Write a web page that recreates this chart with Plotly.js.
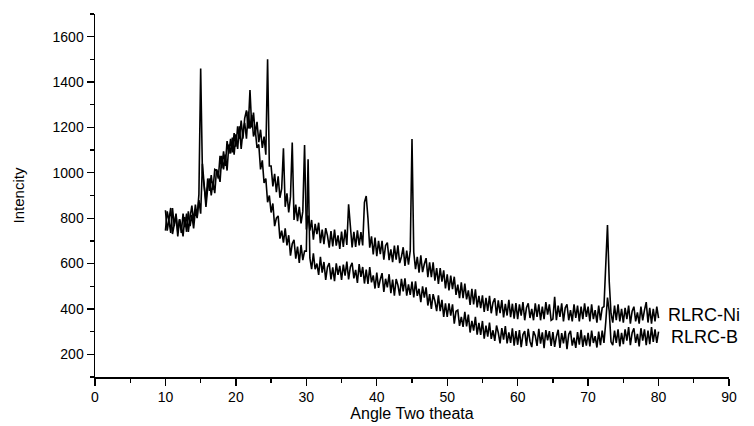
<!DOCTYPE html>
<html>
<head>
<meta charset="utf-8">
<script src="https://cdn.plot.ly/plotly-3.0.1.min.js"></script>
<style>html,body{margin:0;padding:0;background:#fff;}#chart{width:754px;height:426px;}</style>
</head>
<body>
<div id="chart"></div>
<script>
// Scan grid: 2-theta from 10 to 80 deg, step 0.25 deg
const angleStart = 10;
const angleStep = 0.25;

// RLRC-B intensities (lower curve)
const rlrcB = [
835,745,795,845,730,765,815,720,795,765,720,805,740,830,765,815,755,835,800,880,
820,1040,920,850,935,975,900,960,910,1015,995,960,1075,1015,1080,1010,1125,1085,1155,1080,
1170,1105,1205,1105,1185,1220,1150,1270,1195,1255,1160,1190,1110,1125,1015,1055,955,975,870,900,
825,865,765,800,810,710,745,692,755,680,725,635,687,705,622,675,603,682,615,655,
655,1060,625,575,645,575,600,550,630,560,607,528,585,602,530,583,522,601,550,590,
528,595,547,609,530,585,603,535,572,515,598,541,585,512,573,510,585,517,548,490,
560,493,530,558,475,533,495,553,470,529,458,532,505,459,533,477,535,459,508,462,
520,451,522,458,489,430,500,450,495,415,465,400,465,435,390,460,390,440,365,425,
365,425,370,420,335,390,395,325,365,321,387,323,375,296,347,304,365,287,339,286,
347,269,326,278,340,268,306,259,327,295,248,316,265,324,248,297,250,314,238,302,
242,307,232,287,302,237,312,257,232,302,282,237,312,247,297,227,307,262,302,237,
298,233,278,308,228,293,248,303,223,288,303,238,273,228,298,243,308,233,283,238,
295,235,305,250,280,230,300,240,305,250,340,450,390,255,240,305,250,310,235,295,
245,310,260,320,240,295,315,250,290,235,315,260,310,240,305,245,320,255,310,250,300
];

// RLRC-Ni intensities (upper curve)
const rlrcNi = [
745,830,790,735,845,765,820,740,795,735,820,760,820,740,805,855,785,860,805,905,
1460,1000,940,875,975,920,990,925,1015,1010,975,1075,1020,1095,1030,1140,1085,1150,1090,1175,
1115,1205,1150,1230,1150,1240,1275,1195,1365,1200,1265,1170,1225,1135,1190,1110,1160,1080,1500,1030,
1030,940,995,915,985,890,930,1108,850,910,825,895,1133,792,860,787,850,777,830,1122,
750,812,745,792,705,775,730,780,690,750,685,756,723,670,743,676,750,679,724,665,
741,673,750,682,861,747,671,740,673,746,680,739,680,870,898,800,670,720,640,715,
633,700,642,700,617,680,692,615,663,606,679,617,680,602,630,672,590,657,595,657,
1149,650,575,630,560,636,562,598,624,540,605,540,605,525,580,510,580,520,570,490,
552,482,547,487,542,462,507,447,517,447,512,442,482,418,489,420,486,407,458,404,
460,387,449,391,458,381,429,447,370,438,381,439,363,422,371,440,364,423,357,426,
355,420,370,430,350,405,425,360,400,350,425,365,420,350,410,355,430,375,420,350,
355,454,350,415,365,425,345,405,420,350,395,345,420,360,415,345,410,355,425,365,
410,345,420,355,395,340,415,350,405,410,560,770,520,380,340,415,350,420,345,400,
340,405,355,415,335,390,410,345,385,335,410,350,395,430,340,405,335,400,345,410,360
];

const seriesNames = ['RLRC-B', 'RLRC-Ni'];
const xTickVals = [0,10,20,30,40,50,60,70,80,90];
const yTickVals = [200,400,600,800,1000,1200,1400,1600];
const xTitle = 'Angle Two theata';
const yTitle = 'Intencity';

const fontFam = 'Arial, "Liberation Sans", sans-serif';

const traces = [
  {type:'scatter', mode:'lines', name:seriesNames[0], x0:angleStart, dx:angleStep, y:rlrcB,
   line:{color:'#000', width:1.6}, hoverinfo:'skip'},
  {type:'scatter', mode:'lines', name:seriesNames[1], x0:angleStart, dx:angleStep, y:rlrcNi,
   line:{color:'#000', width:1.6}, hoverinfo:'skip'}
];

const layout = {
  width:754, height:426,
  margin:{l:95, r:25, t:14, b:49},
  paper_bgcolor:'#fff', plot_bgcolor:'#fff',
  showlegend:false,
  font:{family:fontFam, color:'#000', size:14},
  xaxis:{
    range:[0,90], tickvals:xTickVals, ticktext:xTickVals.map(String),
    ticks:'outside', ticklen:7, tickwidth:1.3, tickcolor:'#000',
    minor:{dtick:5, tick0:0, ticks:'outside', ticklen:4, tickwidth:1.3, tickcolor:'#000', showgrid:false},
    showline:true, linecolor:'#000', linewidth:1.5,
    showgrid:false, zeroline:false,
    tickfont:{family:fontFam, size:14, color:'#000'},
    title:{text:xTitle, font:{family:fontFam, size:16, color:'#000'}, standoff:1}
  },
  yaxis:{
    range:[100,1700], tickvals:yTickVals, ticktext:yTickVals.map(String),
    ticks:'outside', ticklen:7, tickwidth:1.3, tickcolor:'#000',
    minor:{dtick:100, tick0:0, ticks:'outside', ticklen:4, tickwidth:1.3, tickcolor:'#000', showgrid:false},
    showline:true, linecolor:'#000', linewidth:1.5,
    showgrid:false, zeroline:false,
    tickfont:{family:fontFam, size:14, color:'#000'},
    title:{text:yTitle, font:{family:fontFam, size:15, color:'#000'}, standoff:24}
  },
  annotations:[
    {x:81.1, y:372, xref:'x', yref:'y', text:seriesNames[1], showarrow:false, xanchor:'left', yanchor:'middle',
     font:{family:fontFam, size:18, color:'#000'}},
    {x:81.5, y:278, xref:'x', yref:'y', text:seriesNames[0], showarrow:false, xanchor:'left', yanchor:'middle',
     font:{family:fontFam, size:18, color:'#000'}}
  ]
};

Plotly.newPlot('chart', traces, layout, {displayModeBar:false, staticPlot:true});
</script>
</body>
</html>
